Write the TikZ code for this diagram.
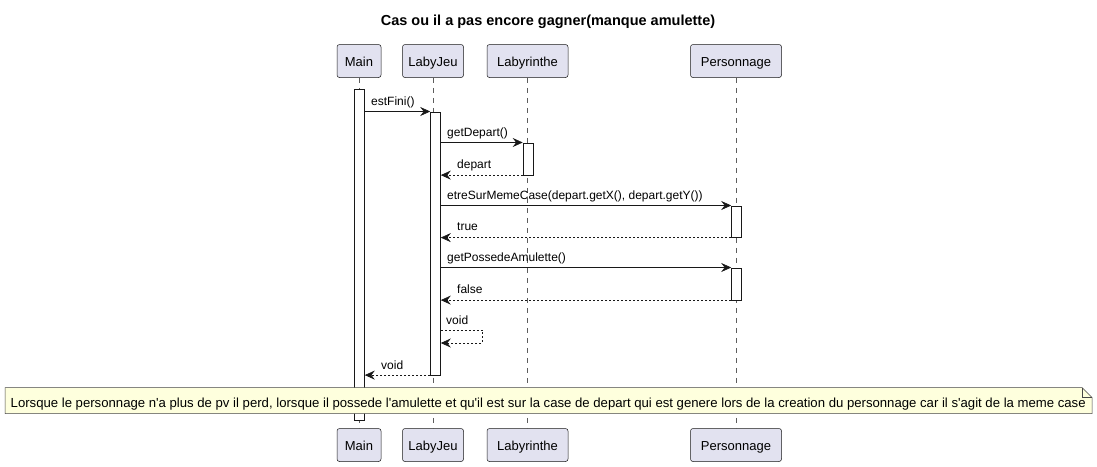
\documentclass[tikz,border=0pt]{standalone}
\usepackage{fontspec}
\setmainfont{Liberation Sans}[Ligatures=TeXOff]
\usetikzlibrary{arrows.meta}
\definecolor{partfill}{HTML}{E2E2F0}
\definecolor{notefill}{HTML}{FEFFDD}
\definecolor{edge}{HTML}{181818}
\begin{document}
\begin{tikzpicture}[x=1pt,y=-1pt,
  part/.style={draw=edge, fill=partfill, rounded corners=2.5pt, minimum height=33pt, inner sep=0pt, text height=11pt, text depth=1pt, font=\fontsize{13}{15}\selectfont, line width=0.5pt},
  actbar/.style={draw=edge, fill=white, line width=0.6pt},
  life/.style={draw=edge!70, dash pattern=on 5pt off 5pt, line width=0.5pt},
  msg/.style={draw=edge, -{Stealth[length=10pt,width=9pt,inset=3.5pt]}, line width=0.6pt},
  ret/.style={msg, dash pattern=on 2pt off 2pt},
  lbl/.style={font=\fontsize{12}{14}\selectfont, anchor=base west, inner sep=0pt}]
\useasboundingbox (0,0) rectangle (1097,466);
\fill[white] (0,0) rectangle (1097,466);

\node[font=\bfseries\fontsize{14.5}{17}\selectfont] (title) at (548,22) {Cas ou il a pas encore gagner(manque amulette)};

% participants top
\node[part, minimum width=44pt] (mainT) at (359,61) {Main};
\node[part, minimum width=61pt] (jeuT) at (433,61) {LabyJeu};
\node[part, minimum width=81pt] (labT) at (527.5,61) {Labyrinthe};
\node[part, minimum width=91pt] (perT) at (736,61) {Personnage};
% participants bottom
\node[part, minimum width=44pt] (mainB) at (359,445) {Main};
\node[part, minimum width=61pt] (jeuB) at (433,445) {LabyJeu};
\node[part, minimum width=81pt] (labB) at (527.5,445) {Labyrinthe};
\node[part, minimum width=91pt] (perB) at (736,445) {Personnage};

% lifelines
\draw[life] (mainT.south) -- (mainB.north);
\draw[life] (jeuT.south) -- (jeuB.north);
\draw[life] (labT.south) -- (labB.north);
\draw[life] (perT.south) -- (perB.north);

% activation bars
\node[actbar, minimum width=10pt, minimum height=331pt, inner sep=0pt, anchor=north] (aMain) at (359.5,89) {};
\node[actbar, minimum width=10pt, minimum height=263pt, inner sep=0pt, anchor=north] (aJeu) at (435.5,111.5) {};
\node[actbar, minimum width=10pt, minimum height=32pt, inner sep=0pt, anchor=north] (aLab) at (528,142.5) {};
\node[actbar, minimum width=10pt, minimum height=31.5pt, inner sep=0pt, anchor=north] (aPer1) at (736.5,205.5) {};
\node[actbar, minimum width=10pt, minimum height=32pt, inner sep=0pt, anchor=north] (aPer2) at (736.5,267.5) {};

% messages
\coordinate (m1a) at (aMain.east |- 0,111.5);
\coordinate (m1b) at (aJeu.west |- 0,111.5);
\draw[msg] (m1a) -- (m1b);
\node[lbl] (l1) at (371,105) {estFini()};

\coordinate (m2a) at (aJeu.east |- aLab.north);
\draw[msg] (m2a) -- (aLab.north west);
\node[lbl] (l2) at (447,136) {getDepart()};

\coordinate (m3b) at (aJeu.east |- aLab.south);
\draw[ret] (aLab.south west) -- (m3b);
\node[lbl] (l3) at (457,168) {depart};

\coordinate (m4a) at (aJeu.east |- aPer1.north);
\draw[msg] (m4a) -- (aPer1.north west);
\node[lbl] (l4) at (447,199) {etreSurMemeCase(depart.getX(), depart.getY())};

\coordinate (m5b) at (aJeu.east |- aPer1.south);
\draw[ret] (aPer1.south west) -- (m5b);
\node[lbl] (l5) at (457,230.5) {true};

\coordinate (m6a) at (aJeu.east |- aPer2.north);
\draw[msg] (m6a) -- (aPer2.north west);
\node[lbl] (l6) at (447,261) {getPossedeAmulette()};

\coordinate (m7b) at (aJeu.east |- aPer2.south);
\draw[ret] (aPer2.south west) -- (m7b);
\node[lbl] (l7) at (457,293) {false};

\coordinate (s1) at (aJeu.east |- 0,330);
\coordinate (s2) at (aJeu.east |- 0,343);
\draw[ret] (s1) -- (482.5,330) -- (482.5,343) -- (s2);
\node[lbl] (l8) at (446,324) {void};

\coordinate (m9a) at (aJeu.west |- aJeu.south);
\coordinate (m9b) at (aMain.east |- aJeu.south);
\draw[ret] (m9a) -- (m9b);
\node[lbl] (l9) at (381,369) {void};

% note
\draw[draw=edge!80, fill=notefill, line width=0.5pt]
  (5,387.5) -- (1082,387.5) -- (1092,397.5) -- (1092,413.5) -- (5,413.5) -- cycle;
\draw[draw=edge!80, line width=0.5pt] (1082,387.5) -- (1082,397.5) -- (1092,397.5);
\node[lbl, font=\fontsize{13.15}{15}\selectfont] (note) at (10.5,407.5) {Lorsque le personnage n'a plus de pv il perd, lorsque il possede l'amulette et qu'il est sur la case de depart qui est genere lors de la creation du personnage car il s'agit de la meme case};
\end{tikzpicture}
\end{document}
